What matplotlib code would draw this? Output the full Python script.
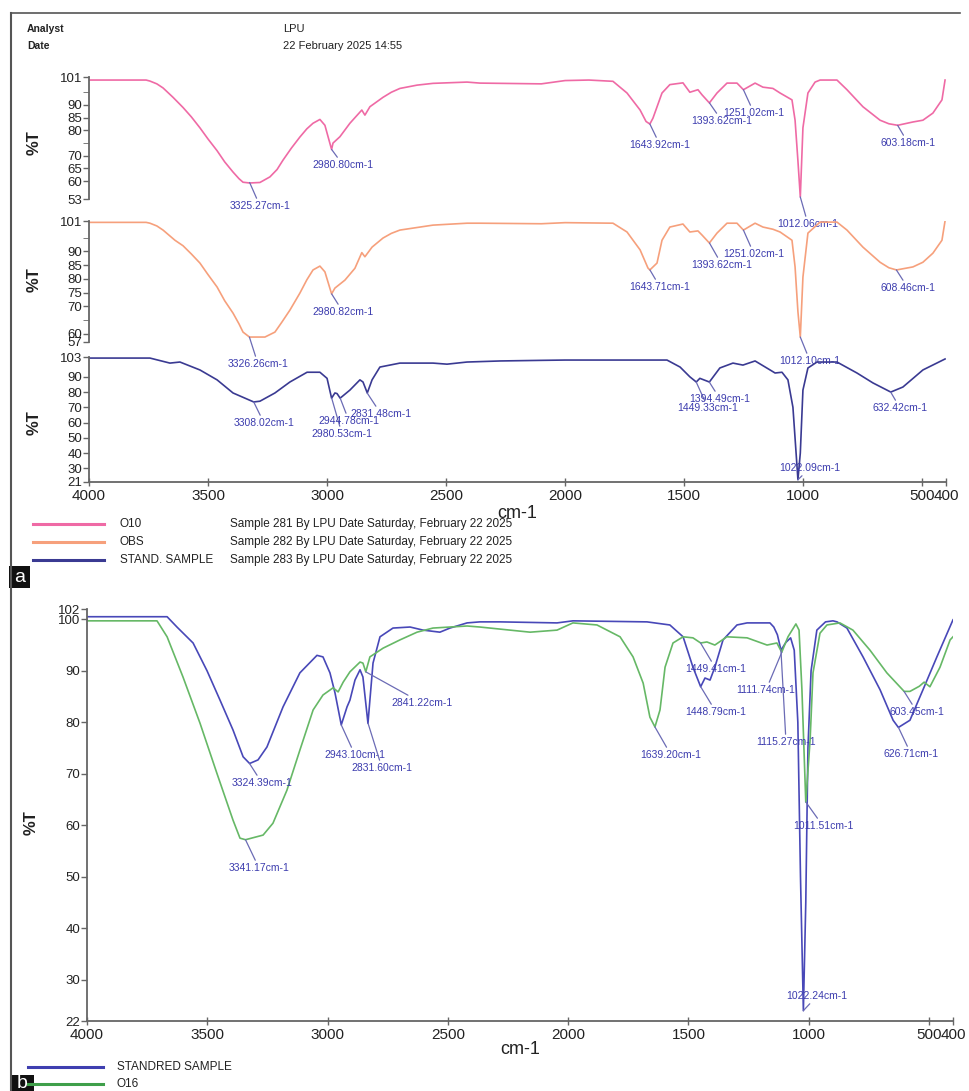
import matplotlib.pyplot as plt
from matplotlib.lines import Line2D
from matplotlib.patches import Rectangle

plt.rcParams['font.family'] = ['Liberation Sans', 'DejaVu Sans']

# ---------------- data ----------------
# panel a, O10
o10_wn = [4000, 3760, 3744, 3715, 3689, 3647, 3605, 3570, 3534, 3500, 3462, 3430, 3395, 3370,
          3353, 3325, 3282, 3240, 3210, 3185, 3150, 3114, 3085, 3059, 3030, 3009, 2981, 2975,
          2946, 2904, 2854, 2841, 2820, 2765, 2730, 2694, 2622, 2555, 2412, 2358, 2100, 2000,
          1900, 1799, 1740, 1685, 1660, 1644, 1631, 1593, 1560, 1505, 1476, 1442, 1425, 1394,
          1362, 1320, 1278, 1251, 1202, 1169, 1127, 1097, 1047, 1034, 1022, 1012, 1001, 980,
          950, 929, 858, 816, 749, 677, 640, 603, 539, 497, 455, 417, 404]
o10_t = [99.8, 99.8, 99.4, 98.3, 96.7, 93.0, 89.0, 85.3, 81.0, 76.6, 72.0, 67.6, 63.6, 61.0,
         59.6, 59.3, 59.5, 61.7, 64.6, 68.3, 73.0, 77.4, 80.6, 82.8, 84.3, 82.0, 72.5, 75.0,
         77.5, 82.8, 88.0, 86.0, 89.3, 93.0, 95.0, 96.5, 97.8, 98.5, 99.0, 98.6, 98.3, 99.6,
         99.8, 99.3, 94.7, 88.0, 83.5, 82.5, 84.8, 94.7, 98.0, 98.7, 95.0, 96.0, 94.0, 90.8,
         94.7, 98.6, 98.6, 96.0, 98.6, 97.0, 96.5, 94.7, 92.0, 84.0, 68.0, 53.8, 81.0, 94.7,
         99.0, 99.8, 99.8, 96.0, 89.3, 84.0, 82.6, 82.0, 83.3, 84.0, 86.8, 92.0, 99.8]

# panel a, OBS
obs_wn = [4000, 3760, 3744, 3715, 3689, 3639, 3605, 3570, 3534, 3500, 3462, 3430, 3395, 3370,
          3353, 3326, 3261, 3219, 3190, 3156, 3114, 3085, 3059, 3030, 3009, 2981, 2967, 2925,
          2883, 2854, 2841, 2811, 2765, 2730, 2694, 2555, 2412, 2358, 2100, 2000, 1799, 1740,
          1685, 1652, 1644, 1614, 1593, 1560, 1505, 1476, 1442, 1425, 1394, 1362, 1320, 1278,
          1251, 1202, 1169, 1127, 1097, 1047, 1034, 1022, 1012, 1001, 980, 929, 858, 816, 749,
          677, 640, 608, 539, 497, 455, 417, 404]
obs_t = [100.5, 100.5, 100.2, 99.2, 97.7, 94.0, 92.0, 89.0, 85.7, 81.5, 77.0, 72.0, 67.5, 63.6,
         60.6, 58.8, 58.8, 60.6, 64.2, 68.6, 74.8, 79.6, 83.2, 84.6, 82.5, 74.5, 76.6, 79.5,
         83.8, 89.5, 88.0, 91.5, 94.8, 96.5, 97.7, 99.5, 100.2, 100.2, 100.0, 100.4, 100.2, 97.0,
         90.5, 83.9, 83.2, 85.7, 94.0, 98.8, 99.9, 97.0, 97.4, 95.9, 93.0, 96.6, 100.2, 100.2,
         97.7, 100.2, 98.8, 98.0, 97.0, 94.0, 84.3, 68.0, 58.8, 80.6, 96.6, 100.6, 100.6, 97.7,
         91.5, 86.0, 84.0, 83.2, 84.3, 86.0, 89.3, 94.0, 101.0]

# panel a, STAND. SAMPLE
std_a_wn = [4000, 3744, 3660, 3618, 3534, 3462, 3395, 3308, 3282, 3219, 3156, 3084, 3030, 3000,
            2981, 2967, 2958, 2945, 2904, 2862, 2849, 2831, 2811, 2778, 2694, 2555, 2496, 2412,
            2273, 2100, 2000, 1800, 1572, 1517, 1476, 1449, 1434, 1394, 1350, 1295, 1253, 1202,
            1139, 1118, 1089, 1064, 1043, 1022, 1012, 1001, 980, 942, 858, 774, 707, 632, 581,
            497, 404]
std_a_t = [102.3, 102.3, 99.0, 99.7, 94.5, 88.0, 79.4, 73.5, 74.0, 79.4, 86.6, 93.0, 93.0, 89.0,
           76.0, 79.4, 79.0, 76.0, 81.3, 88.0, 86.6, 79.4, 88.0, 96.4, 99.0, 99.0, 98.3, 99.7,
           100.4, 100.8, 101.0, 101.0, 101.0, 96.4, 90.0, 86.6, 89.0, 86.6, 95.8, 99.0, 97.7, 100.4,
           94.5, 92.5, 93.0, 88.0, 70.0, 22.5, 40.0, 81.3, 95.8, 99.7, 99.7, 92.5, 86.0, 80.0, 83.3,
           94.5, 101.7]

# panel b, STANDRED SAMPLE
std_b_wn = [4000, 3667, 3626, 3559, 3501, 3447, 3393, 3351, 3324, 3289, 3252, 3185, 3115, 3044,
            3019, 2990, 2969, 2943, 2919, 2907, 2886, 2865, 2853, 2832, 2824, 2811, 2782, 2728,
            2657, 2603, 2533, 2491, 2420, 2367, 2283, 2046, 1980, 1672, 1577, 1522, 1481, 1449,
            1431, 1410, 1390, 1356, 1298, 1256, 1161, 1145, 1130, 1115, 1095, 1075, 1060, 1045,
            1034, 1022, 1012, 1003, 990, 966, 930, 899, 882, 841, 774, 703, 649, 627, 579, 525,
            467, 400]
std_b_t = [100.5, 100.5, 98.5, 95.4, 90.0, 84.3, 78.5, 73.3, 72.0, 72.7, 75.2, 83.0, 89.6, 93.0,
           92.7, 89.6, 85.7, 79.5, 83.0, 84.3, 88.2, 90.2, 88.8, 79.8, 84.3, 91.5, 96.6, 98.3,
           98.5, 97.9, 97.5, 98.3, 99.3, 99.5, 99.5, 99.3, 99.7, 99.5, 98.9, 96.6, 90.7, 86.9,
           88.6, 88.2, 90.7, 96.0, 98.9, 99.3, 99.3, 98.5, 97.0, 94.0, 95.5, 96.4, 94.0, 80.0,
           50.0, 24.0, 45.0, 75.0, 90.0, 97.9, 99.5, 99.7, 99.5, 98.3, 92.7, 86.3, 80.4, 79.0, 80.4, 86.3,
           92.7, 99.9]

# panel b, O16
o16_wn = [4000, 3709, 3667, 3601, 3530, 3460, 3393, 3364, 3341, 3268, 3227, 3169, 3115, 3060,
          3019, 2977, 2956, 2935, 2907, 2865, 2853, 2841, 2824, 2769, 2699, 2628, 2562, 2420,
          2367, 2158, 2046, 1980, 1880, 1784, 1730, 1688, 1660, 1639, 1618, 1597, 1564, 1522,
          1481, 1449, 1423, 1390, 1340, 1256, 1173, 1132, 1112, 1086, 1053, 1040, 1028, 1012,
          994, 982, 953, 924, 870, 816, 745, 675, 603, 579, 540, 520, 496, 454, 412, 400]
o16_t = [99.7, 99.7, 96.6, 88.8, 79.8, 70.1, 61.0, 57.5, 57.2, 58.1, 60.4, 66.8, 74.6, 82.4,
         85.3, 86.7, 85.9, 87.8, 89.8, 91.7, 91.5, 89.8, 92.7, 94.4, 96.0, 97.5, 98.3, 98.7,
         98.5, 97.5, 97.9, 99.3, 98.9, 96.6, 92.7, 87.6, 81.0, 79.1, 82.4, 90.7, 95.4, 96.6,
         96.4, 95.4, 95.6, 95.0, 96.6, 96.4, 95.0, 95.4, 93.6, 96.6, 99.1, 97.9, 86.3, 64.5,
         76.6, 89.6, 97.3, 98.9, 99.3, 97.9, 94.0, 89.6, 86.0, 86.0, 87.0, 87.8, 86.9, 90.7, 96.0, 96.6]

# peak labels: (label, %T at peak, text position in picture pixels)
o10_peaks = [("3325.27cm-1", 59.5, (260, 206)), ("2980.80cm-1", 72.5, (343, 165)),
             ("1643.92cm-1", 82.5, (660, 145)), ("1393.62cm-1", 90.8, (722, 121)),
             ("1251.02cm-1", 96.0, (754, 113)), ("1012.06cm-1", 53.8, (808, 224)),
             ("603.18cm-1", 82.0, (908, 143))]
obs_peaks = [("3326.26cm-1", 58.8, (258, 364)), ("2980.82cm-1", 74.5, (343, 312)),
             ("1643.71cm-1", 83.2, (660, 287)), ("1393.62cm-1", 93.0, (722, 265)),
             ("1251.02cm-1", 97.7, (754, 254)), ("1012.10cm-1", 58.8, (810, 361)),
             ("608.46cm-1", 83.2, (908, 288))]
std_a_peaks = [("3308.02cm-1", 73.5, (264, 423)), ("2980.53cm-1", 76.0, (342, 434)),
               ("2944.78cm-1", 76.0, (349, 421)), ("2831.48cm-1", 79.4, (381, 414)),
               ("1449.33cm-1", 86.6, (708, 408)), ("1394.49cm-1", 86.6, (720, 399)),
               ("1022.09cm-1", 22.5, (810, 468)), ("632.42cm-1", 80.0, (900, 408))]
std_b_peaks = [("3324.39cm-1", 72.0, (262, 783)), ("2943.10cm-1", 79.5, (355, 755)),
               ("2831.60cm-1", 79.8, (382, 768)), ("1448.79cm-1", 86.9, (716, 712)),
               ("1115.27cm-1", 94.0, (786, 742)), ("1022.24cm-1", 24.0, (817, 996)),
               ("626.71cm-1", 79.0, (911, 754))]
o16_peaks = [("3341.17cm-1", 57.2, (259, 868)), ("2841.22cm-1", 89.8, (422, 703)),
             ("1639.20cm-1", 79.1, (671, 755)), ("1449.41cm-1", 95.4, (716, 669)),
             ("1111.74cm-1", 93.6, (766, 690)), ("1011.51cm-1", 64.5, (823, 826)),
             ("603.45cm-1", 86.0, (917, 712))]

x_ticks = [4000, 3500, 3000, 2500, 2000, 1500, 1000, 500, 400]

legend_a = [("O10", "Sample 281 By LPU Date Saturday, February 22 2025", "#ef6aa5"),
            ("OBS", "Sample 282 By LPU Date Saturday, February 22 2025", "#f6a07c"),
            ("STAND. SAMPLE", "Sample 283 By LPU Date Saturday, February 22 2025", "#3a3a92")]
legend_b = [("STANDRED SAMPLE", "#3f3fb0"), ("O16", "#3f9f4a")]

# ---------------- layout ----------------
W, H = 970, 1091
fig = plt.figure(figsize=(W / 100, H / 100), dpi=100)
fig.patch.set_facecolor("white")

LBL = "#3c3cae"
LEAD = "#6b6bb5"
AXC = "#666666"


def add_ax(l, t, r, b):
    ax = fig.add_axes([l / W, 1 - b / H, (r - l) / W, (b - t) / H])
    ax.set_facecolor("none")
    for s in ["top", "right"]:
        ax.spines[s].set_visible(False)
    ax.spines["left"].set_color(AXC)
    ax.spines["left"].set_linewidth(1.3)
    ax.spines["bottom"].set_color(AXC)
    ax.spines["bottom"].set_linewidth(1.3)
    ax.tick_params(colors=AXC, labelcolor="#222222", labelsize=9.5, length=4, width=1, pad=1)
    ax.tick_params(axis="x", direction="inout", length=6, pad=2)
    ax.set_xlim(4000, 400)
    ax.set_xticks(x_ticks)
    return ax


def ftext(x, y, s, **kw):
    fig.text(x / W, 1 - y / H, s, **kw)


def fline(x0, y0, x1, y1, **kw):
    fig.add_artist(Line2D([x0 / W, x1 / W], [1 - y0 / H, 1 - y1 / H],
                          transform=fig.transFigure, **kw))


def peaks(ax, items, fs=7.5):
    for label, t, (px, py) in items:
        wn = float(label.replace("cm-1", ""))
        ax.annotate(label, xy=(wn, t), xytext=(px, H - py), textcoords="figure pixels",
                    ha="center", va="center", fontsize=fs, color=LBL,
                    arrowprops=dict(arrowstyle="-", color=LEAD, lw=0.9, shrinkA=0, shrinkB=0))


# frame
fline(11, 13, 960, 13, color="#555555", lw=1.2)
fline(11, 13, 11, 1091, color="#555555", lw=1.5)

# header
ftext(27, 29, "Analyst", fontsize=7.5, fontweight="bold", color="#222222", va="center")
ftext(27, 46, "Date", fontsize=7.5, fontweight="bold", color="#222222", va="center")
ftext(283, 29, "LPU", fontsize=8, color="#222222", va="center")
ftext(283, 46, "22 February 2025 14:55", fontsize=8, color="#222222", va="center")

# panel a, O10
ax1 = add_ax(89, 77, 946, 199)
ax1.plot(o10_wn, o10_t, color=legend_a[0][2], lw=1.2)
ax1.set_ylim(53, 101)
ax1.set_yticks([101, 90, 85, 80, 70, 65, 60, 53])
ax1.set_yticks([95, 75], minor=True)
ax1.tick_params(axis="y", which="minor", colors=AXC, length=4)
ax1.spines["bottom"].set_visible(False)
ax1.tick_params(axis="x", bottom=False, labelbottom=False)
peaks(ax1, o10_peaks)

# panel a, OBS
ax2 = add_ax(89, 221, 946, 342)
ax2.plot(obs_wn, obs_t, color=legend_a[1][2], lw=1.2)
ax2.set_ylim(57, 101)
ax2.set_yticks([101, 90, 85, 80, 75, 70, 60, 57])
ax2.set_yticks([95, 65], minor=True)
ax2.tick_params(axis="y", which="minor", colors=AXC, length=4)
ax2.spines["bottom"].set_visible(False)
ax2.tick_params(axis="x", bottom=False, labelbottom=False)
peaks(ax2, obs_peaks)

# panel a, STAND. SAMPLE
ax3 = add_ax(89, 357, 946, 482)
ax3.plot(std_a_wn, std_a_t, color=legend_a[2][2], lw=1.2)
ax3.set_ylim(21, 103)
ax3.set_yticks([103, 90, 80, 70, 60, 50, 40, 30, 21])
ax3.tick_params(axis="x", labelsize=11)
peaks(ax3, std_a_peaks)

for y in [143, 280, 423]:
    ftext(34, y, "%T", fontsize=12, fontweight="bold", rotation=90, ha="center", va="center",
          color="#222222")
ftext(517, 513, "cm-1", fontsize=13, ha="center", va="center", color="#222222")

for i, (name, desc, col) in enumerate(legend_a):
    y = 524 + 18 * i
    fline(33, y, 104, y, color=col, lw=2.2)
    ftext(120, y, name, fontsize=8.5, va="center", color="#222222")
    ftext(230, y, desc, fontsize=8.5, va="center", color="#222222")

fig.add_artist(Rectangle((9 / W, 1 - 588 / H), 21 / W, 22 / H, transform=fig.transFigure,
                         facecolor="#111111", edgecolor="none"))
ftext(19.5, 577, "a", fontsize=14, color="white", ha="center", va="center")

# panel b
ax4 = add_ax(87, 609, 953, 1021)
ax4.plot(std_b_wn, std_b_t, color="#4848b8", lw=1.2)
ax4.plot(o16_wn, o16_t, color="#66b866", lw=1.2)
ax4.set_ylim(22, 102)
ax4.set_yticks([102, 100, 90, 80, 70, 60, 50, 40, 30, 22])
ax4.tick_params(axis="x", labelsize=11)
peaks(ax4, std_b_peaks)
peaks(ax4, o16_peaks)

ftext(31, 823, "%T", fontsize=12, fontweight="bold", rotation=90, ha="center", va="center",
      color="#222222")
ftext(520, 1050, "cm-1", fontsize=13, ha="center", va="center", color="#222222")

for i, (name, col) in enumerate(legend_b):
    y = 1067 + 17 * i
    fline(28, y, 103, y, color=col, lw=2.2)
    ftext(117, y, name, fontsize=8.5, va="center", color="#222222")

fig.add_artist(Rectangle((10 / W, 0), 24 / W, 16 / H, transform=fig.transFigure,
                         facecolor="#111111", edgecolor="none"))
ftext(22, 1084, "b", fontsize=14, color="white", ha="center", va="center")

fig.savefig("out.png", dpi=100)
